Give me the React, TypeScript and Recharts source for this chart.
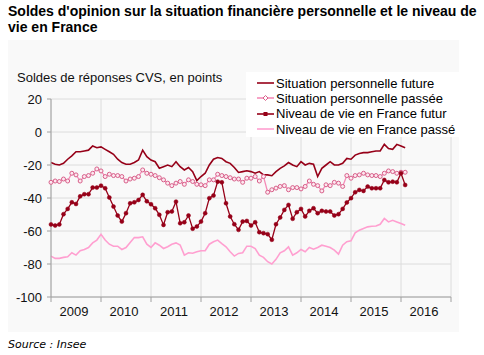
import { LineChart, Line, XAxis, YAxis, CartesianGrid, Legend } from 'recharts';

const years = ['2009', '2010', '2011', '2012', '2013', '2014', '2015', '2016'];
const yTicks = [-100, -80, -60, -40, -20, 0, 20];
const monthTicks = [0, 12, 24, 36, 48, 60, 72, 84, 96];

// monthly balances, Jan 2009 -> Feb 2016
const situationFuture = [
  -18.5, -19.5, -20, -19, -16.5, -14.5, -12, -12, -11.5, -11, -8.5, -9.5,
  -9, -10.5, -12, -13.5, -16.5, -18.5, -19.5, -19.5, -18.5, -17, -11, -15,
  -17, -18, -22, -21, -20, -21, -18, -21, -23, -21.5, -24, -29.5,
  -27, -25, -20, -16.5, -15.5, -16, -18, -19, -21.5, -24.5, -24, -23.5,
  -24, -25, -24, -26, -26, -26.5, -24, -22, -20.5, -18.5, -20, -21,
  -18, -20, -19, -19.5, -27, -22, -20, -18, -20, -20, -19, -16,
  -16.5, -14, -13, -12.5, -12.5, -12, -11.5, -11.5, -7.5, -10, -10.5, -7.5,
  -8.5, -9.5,
];
const situationPassee = [
  -30.5, -29.7, -30, -28.5, -29.7, -25, -26, -29.7, -27, -26.4, -25, -22.4,
  -23.6, -27, -25.6, -26.4, -26.4, -27, -29.7, -28.5, -28, -27, -23, -25,
  -25.6, -26.4, -27.7, -29, -31, -32.5, -31, -30, -31.7, -29, -30, -31.7,
  -32, -32.5, -29, -29, -25.6, -26.4, -27, -27.7, -28.5, -28.5, -30.5, -28,
  -28, -27, -29.7, -27, -36.5, -35, -34, -33, -32.5, -35, -33.7, -33.7,
  -34.5, -33, -29.7, -31.7, -32.5, -35.7, -32, -32.5, -30.5, -31, -33, -26.4,
  -28, -26.4, -26, -25, -26, -26.4, -26.4, -27, -25, -23.6, -24, -25,
  -24.4, -24.4,
];
const niveauFutur = [
  -56, -56.7, -56, -49.8, -46.6, -42.6, -43.6, -39, -37.7, -37.7, -33.7, -33.7,
  -32.5, -34.1, -39.7, -45.2, -50.6, -54.3, -49.2, -43.2, -42.6, -41.2, -38.1, -42,
  -43.8, -46.2, -50.2, -56.3, -48.6, -48.2, -42.2, -55.3, -54.7, -50.6, -58.6, -57.3,
  -54.3, -49.2, -40.1, -38.5, -30.1, -30.5, -43.2, -51.2, -55.9, -59.3, -54.3, -53.9,
  -56.7, -54.7, -60.7, -61.3, -61.9, -65.3, -55.9, -51.8, -47.2, -44.2, -52.6, -48.6,
  -46.6, -51.2, -47.8, -46.2, -49.2, -47.8, -48.2, -48.2, -50.6, -49.8, -46.6, -42.7,
  -40.1, -36.5, -35.1, -35.7, -33.1, -34.1, -34.1, -34.1, -29.1, -30.5, -30.1, -30.5,
  -25, -32.1,
];
const niveauPasse = [
  -75.2, -76.6, -76.6, -76, -75.6, -73.2, -74.6, -72, -71.2, -70, -67.2, -65.5,
  -62, -65.5, -68, -69.2, -69.2, -71.2, -70, -67, -64, -64, -63.5, -68,
  -70, -67.2, -68.6, -70.6, -69.5, -68, -67.2, -68.5, -74.6, -73.2, -73.5, -72.6,
  -72, -72, -68, -66.5, -65.5, -67.6, -69.6, -72.6, -75.2, -73.6, -73.2, -69.2,
  -69.2, -70.6, -74.6, -76, -78.6, -80, -77.2, -73.2, -72, -69.6, -74.6, -73.2,
  -71.2, -72.6, -70, -71, -70, -68.6, -69.2, -70, -71.6, -74, -68.6, -66.5,
  -66, -61.1, -59.5, -58.5, -57.5, -57.1, -57, -55.9, -52.4, -54.5, -53.5, -54.5,
  -55.5, -56.5,
];

const seriesNames = [
  'Situation personnelle future',
  'Situation personnelle passée',
  'Niveau de vie en France futur',
  'Niveau de vie en France passé',
];

const chartData = situationFuture.map((v, i) => ({
  month: i,
  sf: v,
  sp: situationPassee[i],
  nf: niveauFutur[i],
  np: niveauPasse[i],
}));

const FONT = '"Liberation Sans", Arial, sans-serif';
const DARK = '#960018';
const PINK_LINE = '#f58cb8';
const PINK_DOT = '#d8608a';
const LIGHT_PINK = '#ff9fd0';

const YearTick = (props: any) => {
  const { x, y, payload } = props;
  const label = years[Math.round(payload.value / 12)];
  if (!label || payload.value >= 96) return <g />;
  return (
    <text x={x + 23} y={y} dy={12} textAnchor="middle" fontSize={13} fontFamily={FONT} fill="#111">
      {label}
    </text>
  );
};

const legendRows = [
  { name: seriesNames[0], color: DARK, marker: 'none' },
  { name: seriesNames[1], color: PINK_LINE, marker: 'diamond' },
  { name: seriesNames[2], color: DARK, marker: 'square' },
  { name: seriesNames[3], color: LIGHT_PINK, marker: 'none' },
];

const LegendBox = () => (
  <div style={{ background: '#fff', width: 213, height: 65, fontFamily: FONT, fontSize: 13, color: '#000' }}>
    {legendRows.map((r, i) => (
      <div key={i} style={{ position: 'absolute', left: 0, top: 3 + i * 15.4, height: 16, display: 'flex', alignItems: 'center' }}>
        <svg width={30} height={16}>
          <line x1={11} y1={8} x2={28} y2={8} stroke={r.color} strokeWidth={1.6} />
          {r.marker === 'diamond' && (
            <polygon points="19.5,5.5 22,8 19.5,10.5 17,8" fill="#fff" stroke={PINK_DOT} strokeWidth={1} />
          )}
          {r.marker === 'square' && <rect x={17.5} y={6} width={4} height={4} fill={DARK} />}
        </svg>
        <span style={{ whiteSpace: 'nowrap' }}>{r.name}</span>
      </div>
    ))}
  </div>
);

export default function App() {
  return (
    <div style={{ position: 'absolute', left: 0, top: 0, width: 484, height: 355, background: '#fff' }}>
      <div
        style={{
          position: 'absolute',
          left: 8,
          top: 3,
          fontFamily: FONT,
          fontWeight: 'bold',
          fontSize: 14,
          lineHeight: '16px',
          color: '#000',
          whiteSpace: 'nowrap',
        }}
      >
        Soldes d'opinion sur la situation financière personnelle et le niveau de
        <br />
        vie en France
      </div>

      <div style={{ position: 'absolute', left: 8, top: 40, width: 451, height: 292, background: '#f9f9f9' }}>
        <LineChart
          width={451}
          height={292}
          data={chartData}
          margin={{ top: 59, right: 8, bottom: 5, left: 0 }}
        >
          <CartesianGrid stroke="#dcdcdc" strokeWidth={1} />
          <XAxis
            type="number"
            dataKey="month"
            domain={[0, 96]}
            ticks={monthTicks}
            interval={0}
            height={30}
            tickSize={5}
            tick={<YearTick />}
            axisLine={{ stroke: '#a0a0a0' }}
            tickLine={{ stroke: '#a0a0a0' }}
          />
          <YAxis
            type="number"
            domain={[-100, 20]}
            ticks={yTicks}
            interval={0}
            width={43}
            tickSize={4}
            tickMargin={5}
            tick={{ fontSize: 13, fontFamily: FONT, fill: '#111' }}
            axisLine={{ stroke: '#a0a0a0' }}
            tickLine={{ stroke: '#a0a0a0' }}
          />
          <Legend
            layout="vertical"
            align="center"
            verticalAlign="middle"
            content={<LegendBox />}
            wrapperStyle={{ left: 238, top: 32, width: 213, height: 65 }}
          />
          <Line
            name={seriesNames[0]}
            dataKey="sf"
            stroke={DARK}
            strokeWidth={1.6}
            dot={false}
            activeDot={false}
            isAnimationActive={false}
          />
          <Line
            name={seriesNames[1]}
            dataKey="sp"
            stroke={PINK_LINE}
            strokeWidth={1.3}
            dot={{ r: 2, fill: '#fde8f0', stroke: PINK_DOT, strokeWidth: 1 }}
            activeDot={false}
            isAnimationActive={false}
          />
          <Line
            name={seriesNames[2]}
            dataKey="nf"
            stroke={DARK}
            strokeWidth={1.3}
            dot={{ r: 2, fill: DARK, stroke: DARK, strokeWidth: 0.5 }}
            activeDot={false}
            isAnimationActive={false}
          />
          <Line
            name={seriesNames[3]}
            dataKey="np"
            stroke={LIGHT_PINK}
            strokeWidth={1.6}
            dot={false}
            activeDot={false}
            isAnimationActive={false}
          />
        </LineChart>
        <div
          style={{
            position: 'absolute',
            left: 9,
            top: 30,
            fontFamily: FONT,
            fontSize: 13,
            lineHeight: '16px',
            color: '#111',
            whiteSpace: 'nowrap',
          }}
        >
          Soldes de réponses CVS, en points
        </div>
      </div>

      <div
        style={{
          position: 'absolute',
          left: 8,
          top: 338,
          fontFamily: '"DejaVu Sans", sans-serif',
          fontStyle: 'italic',
          fontSize: 11,
          lineHeight: '14px',
          color: '#000',
        }}
      >
        Source : Insee
      </div>
    </div>
  );
}
